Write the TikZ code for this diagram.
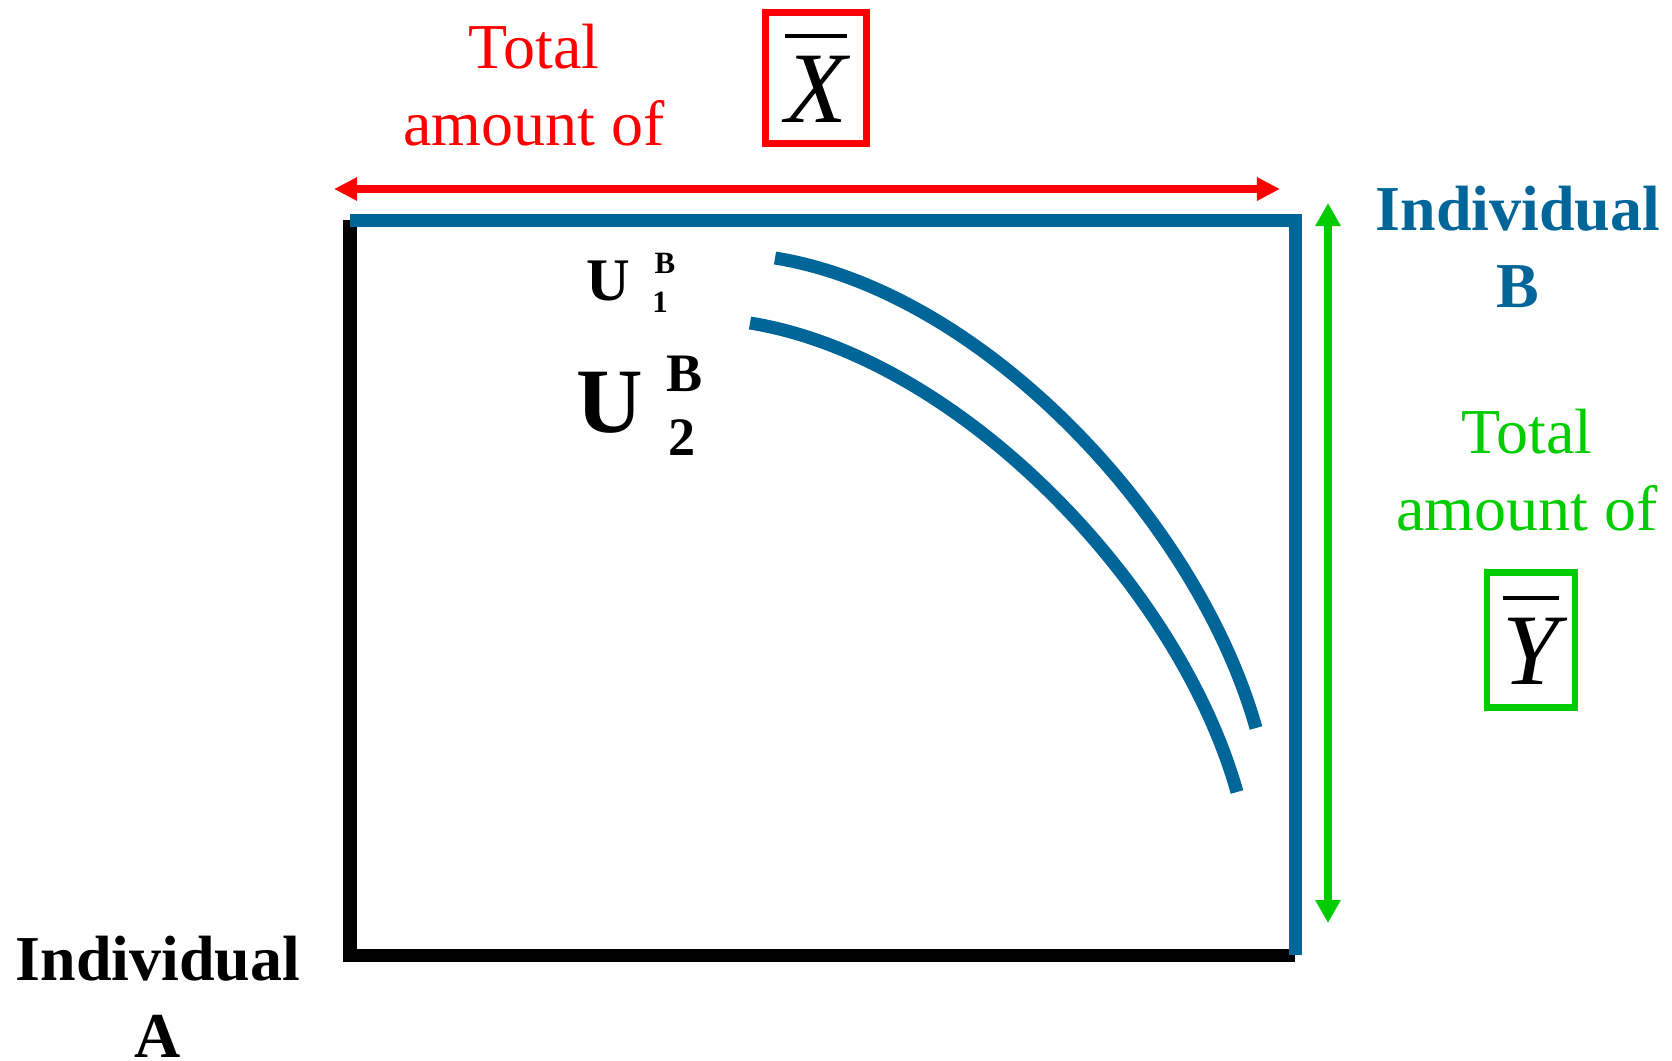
\documentclass[tikz,border=0pt]{standalone}
\usepackage{fontspec}
\setmainfont{Liberation Serif}
\usetikzlibrary{arrows.meta}

\definecolor{indblue}{RGB}{0,102,153}
\definecolor{totred}{RGB}{255,0,0}
\definecolor{totgreen}{RGB}{0,204,0}

\newcommand{\barred}[1]{\vbox{\hrule height 1.1pt\kern 5.2pt\hbox{\itshape #1}}}

\begin{document}
\begin{tikzpicture}[x=0.01cm,y=-0.01cm,
    frame/.style={line width=0.13cm},
    indiff/.style={indblue,line width=0.13cm},
    lbl/.style={align=center,inner sep=0pt,font=\fontsize{18.2}{21.9}\selectfont},
    boldlbl/.style={lbl,font=\bfseries\fontsize{18.2}{21.9}\selectfont},
    barbox/.style={line width=0.065cm,inner sep=0pt,font=\fontsize{28.8}{30}\selectfont}]
    \useasboundingbox (0,0) rectangle (1672,1060);

    \coordinate (sw) at (350,955);
    \coordinate (nw) at (350,220);
    \coordinate (ne) at (1295,220);
    \coordinate (se) at (1295,955);

    % edgeworth box
    \draw [frame] (nw) -- (sw) -- (se);
    \draw [frame,indblue] (nw) -- (ne) -- (se);

    % totals
    \coordinate (xl) at (334,189);
    \coordinate (xr) at (1280,189);
    \draw [totred,line width=0.08cm,{Triangle[length=0.23cm,width=0.22cm]}-{Triangle[length=0.23cm,width=0.22cm]}] (xl) -- (xr);
    \coordinate (yt) at (1328,203);
    \coordinate (yb) at (1328,923);
    \draw [totgreen,line width=0.08cm,{Triangle[length=0.23cm,width=0.24cm]}-{Triangle[length=0.23cm,width=0.24cm]}] (yt) -- (yb);

    \node (xtext) [lbl,totred] at (534,85) {Total\\amount of};
    \node (xbox) [barbox,draw=totred,minimum width=1.01cm,minimum height=1.31cm] at (816,78) {\barred{X}};
    \node (ytext) [lbl,totgreen] at (1527,470) {Total\\amount of};
    \node (ybox) [barbox,draw=totgreen,minimum width=0.88cm,minimum height=1.35cm] at (1531,640) {\barred{Y}};

    \node (inda) [boldlbl] at (158,997) {Individual\\A};
    \node (indb) [boldlbl,indblue] at (1518,247) {Individual\\B};

    % indifference curves of B
    \coordinate (u1s) at (775,258);
    \coordinate (u1e) at (1256,728);
    \coordinate (u2s) at (750,323);
    \coordinate (u2e) at (1237,792);
    \draw [indiff] (u1s) .. controls (985,292) and (1198,522) .. (u1e);
    \draw [indiff] (u2s) .. controls (960,357) and (1179,586) .. (u2e);

    \node (u1) [anchor=base,inner sep=0pt,font=\bfseries\fontsize{17.2}{20}\selectfont] at (608,300) {U};
    \node (u1b) [anchor=base,inner sep=0pt,font=\bfseries\fontsize{8.8}{10}\selectfont] at (665,273) {B};
    \node (u1n) [anchor=base,inner sep=0pt,font=\bfseries\fontsize{8.8}{10}\selectfont] at (660,312) {1};
    \node (u2) [anchor=base,inner sep=0pt,font=\bfseries\fontsize{26.2}{28}\selectfont] at (610,432) {U};
    \node (u2b) [anchor=base,inner sep=0pt,font=\bfseries\fontsize{15.4}{17}\selectfont] at (685,391) {B};
    \node (u2n) [anchor=base,inner sep=0pt,font=\bfseries\fontsize{15.4}{17}\selectfont] at (682,455) {2};
\end{tikzpicture}
\end{document}
